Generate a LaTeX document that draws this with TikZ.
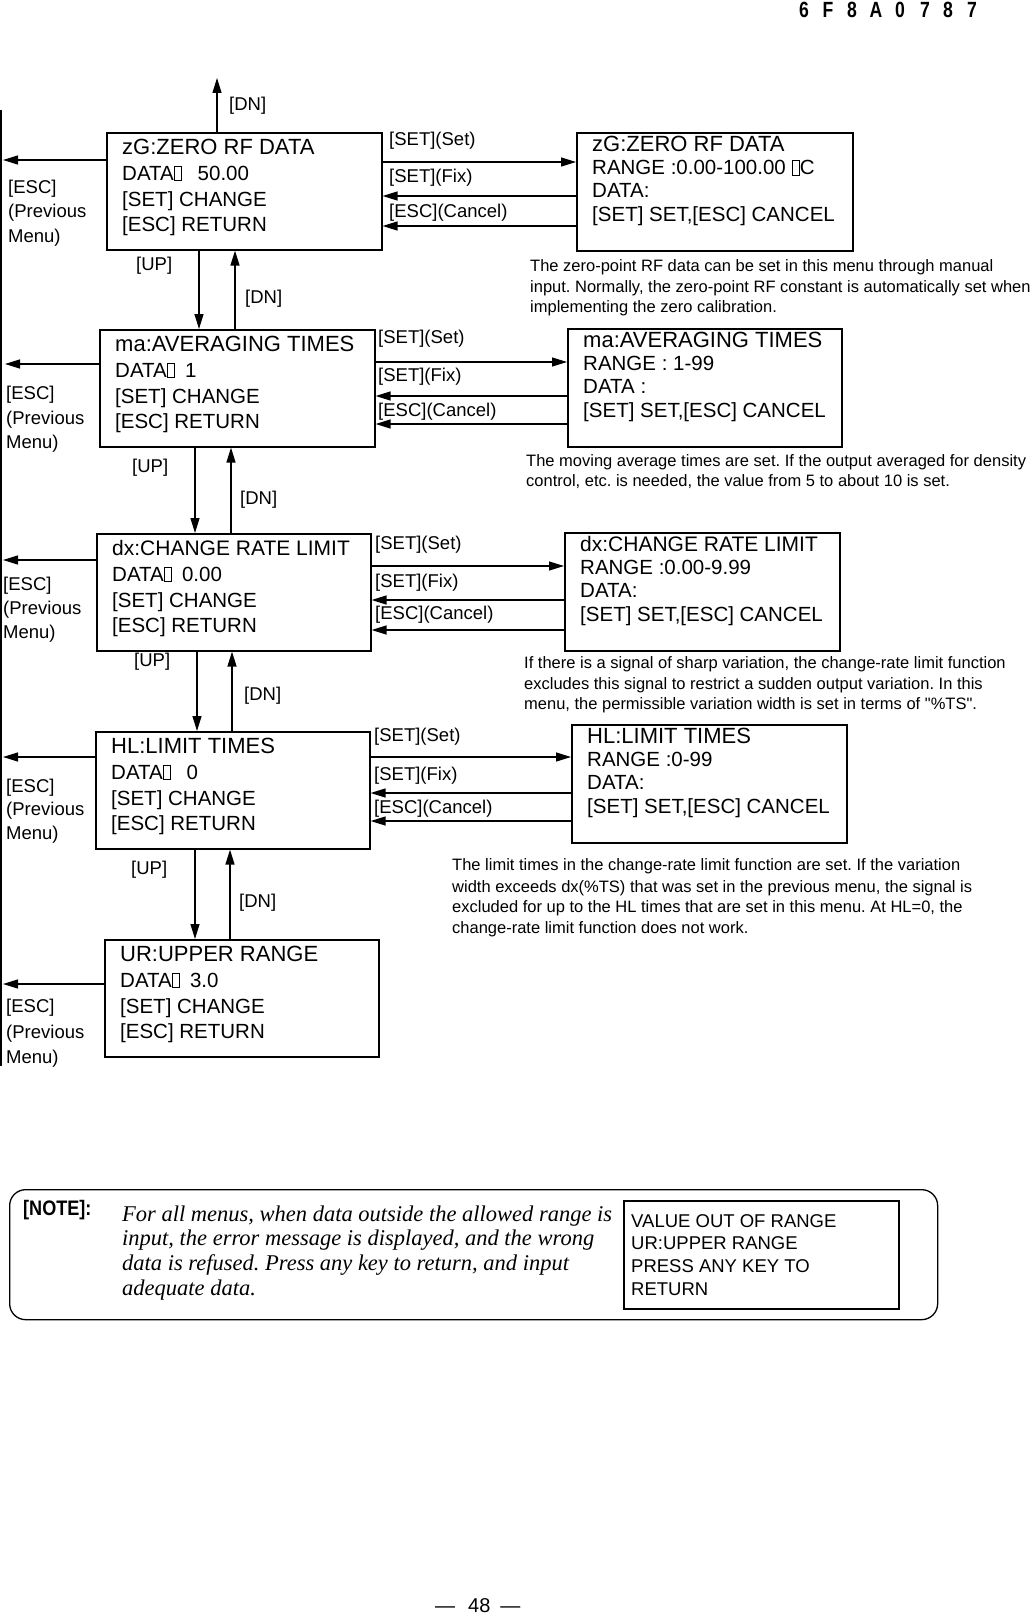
\documentclass[tikz,border=0pt]{standalone}
\usepackage{fontspec}
\setmainfont{Liberation Sans}
\newfontfamily\notefont{Liberation Serif}
\usepackage{graphicx}
\usetikzlibrary{arrows.meta,calc}
\newcommand\tofu{\hspace{0.5pt}{\fboxsep=0pt\fboxrule=0.6pt\fbox{\rule{0pt}{14pt}\hspace{6.5pt}}}}
\newcommand\dtofu{\tofu\hspace{10pt}}
\newcommand\leftmenu[9]{%
  \node[mbox, minimum width=#4pt, minimum height=117pt] (#1) at (#2,#3) {};
  \node[ttl, font=\fontsize{#9}{26}\selectfont] (#1-1) at ($(#1.north west)+(16,22.4)$) {#5};
  \node[txt] (#1-2) at ($(#1.north west)+(16,48.3)$) {#6};
  \node[txt] (#1-3) at ($(#1.north west)+(16,74.3)$) {#7};
  \node[txt] (#1-4) at ($(#1.north west)+(16,99.3)$) {#8};
}
\newcommand\rightmenu[9]{%
  \node[mbox, minimum width=#4pt, minimum height=118pt] (#1) at (#2,#3) {};
  \node[ttl, font=\fontsize{#9}{26}\selectfont] (#1-1) at ($(#1.north west)+(16,19.9)$) {#5};
  \node[txt] (#1-2) at ($(#1.north west)+(16,42.8)$) {#6};
  \node[txt] (#1-3) at ($(#1.north west)+(16,65.8)$) {#7};
  \node[txt] (#1-4) at ($(#1.north west)+(16,89.3)$) {#8};
}
\begin{document}
\frenchspacing
\begin{tikzpicture}[x=1pt,y=-1pt,
  mbox/.style={draw, line width=1.6pt, inner sep=0pt, anchor=north west},
  ttl/.style={anchor=base west, inner sep=0pt},
  txt/.style={anchor=base west, inner sep=0pt, font=\fontsize{20.5}{24}\selectfont},
  lbl/.style={anchor=base west, inner sep=0pt, font=\fontsize{18.5}{22}\selectfont},
  note/.style={anchor=base west, inner sep=0pt, font=\fontsize{16.5}{20}\selectfont},
  ital/.style={anchor=base west, inner sep=0pt, font=\fontsize{22.5}{25}\notefont\itshape},
  err/.style={anchor=base west, inner sep=0pt, font=\fontsize{18.5}{22}\selectfont},
  hdr/.style={anchor=center, inner sep=0pt, font=\fontsize{22}{24}\selectfont\bfseries},
  arr/.style={line width=1.3pt, -{Triangle[length=15pt,width=9pt]}},
  plain/.style={line width=1.3pt}]
\useasboundingbox (0,0) rectangle (1032,1616);
\fill[white] (0,0) rectangle (1032,1616);

% header
\foreach \c/\x [count=\i] in {6/804,F/828,8/852,A/876,0/900,7/925,8/948,7/972}
  \node[hdr] (h\i) at (\x,10) {\scalebox{0.8}[1]{\c}};

% left menus
\leftmenu{zGL}{106}{132}{275}{zG:ZERO RF DATA}{DATA\dtofu\ 50.00}{[SET] CHANGE}{[ESC] RETURN}{22}
\leftmenu{maL}{99}{329}{275}{ma:AVERAGING TIMES}{DATA\dtofu 1}{[SET] CHANGE}{[ESC] RETURN}{22}
\leftmenu{dxL}{96}{533}{274}{dx:CHANGE RATE LIMIT}{DATA\dtofu 0.00}{[SET] CHANGE}{[ESC] RETURN}{21}
\leftmenu{HLL}{95}{731}{274}{HL:LIMIT TIMES}{DATA\dtofu\ 0}{[SET] CHANGE}{[ESC] RETURN}{22}
\leftmenu{URL}{104}{939}{274}{UR:UPPER RANGE}{DATA\dtofu 3.0}{[SET] CHANGE}{[ESC] RETURN}{22}

% right menus
\rightmenu{zGR}{576}{132}{276}{zG:ZERO RF DATA}{RANGE :0.00-100.00 \tofu C}{DATA:}{[SET] SET,[ESC] CANCEL}{22}
\rightmenu{maR}{567}{328}{274}{ma:AVERAGING TIMES}{RANGE : 1-99}{DATA :}{[SET] SET,[ESC] CANCEL}{22}
\rightmenu{dxR}{564}{532}{275}{dx:CHANGE RATE LIMIT}{RANGE :0.00-9.99}{DATA:}{[SET] SET,[ESC] CANCEL}{21}
\rightmenu{HLR}{571}{724}{275}{HL:LIMIT TIMES}{RANGE :0-99}{DATA:}{[SET] SET,[ESC] CANCEL}{22}

% horizontal arrows, zG row
\draw[arr] (zGL.east |- 0,162) -- (zGR.west |- 0,162);
\draw[arr] (zGR.west |- 0,196) -- (zGL.east |- 0,196);
\draw[arr] (zGR.west |- 0,226) -- (zGL.east |- 0,226);
\node[lbl] (zGs) at (389,145.6) {[SET](Set)};
\node[lbl] (zGf) at (389,182.6) {[SET](Fix)};
\node[lbl] (zGc) at (389,217.6) {[ESC](Cancel)};
% ma row
\draw[arr] (maL.east |- 0,362) -- (maR.west |- 0,362);
\draw[arr] (maR.west |- 0,396) -- (maL.east |- 0,396);
\draw[arr] (maR.west |- 0,424) -- (maL.east |- 0,424);
\node[lbl] (mas) at (378,343.6) {[SET](Set)};
\node[lbl] (maf) at (378,381.6) {[SET](Fix)};
\node[lbl] (mac) at (378,416.6) {[ESC](Cancel)};
% dx row
\draw[arr] (dxL.east |- 0,566) -- (dxR.west |- 0,566);
\draw[arr] (dxR.west |- 0,600) -- (dxL.east |- 0,600);
\draw[arr] (dxR.west |- 0,630) -- (dxL.east |- 0,630);
\node[lbl] (dxs) at (375,549.6) {[SET](Set)};
\node[lbl] (dxf) at (375,587.6) {[SET](Fix)};
\node[lbl] (dxc) at (375,619.6) {[ESC](Cancel)};
% HL row
\draw[arr] (HLL.east |- 0,757) -- (HLR.west |- 0,757);
\draw[arr] (HLR.west |- 0,793) -- (HLL.east |- 0,793);
\draw[arr] (HLR.west |- 0,821) -- (HLL.east |- 0,821);
\node[lbl] (HLs) at (374,741.6) {[SET](Set)};
\node[lbl] (HLf) at (374,780.6) {[SET](Fix)};
\node[lbl] (HLc) at (374,813.6) {[ESC](Cancel)};

% left vertical line
\coordinate (v1) at (1,110);
\coordinate (v2) at (1,1066);
\draw[plain] (v1) -- (v2);

% ESC arrows
\coordinate (e1) at (3,160);
\coordinate (e2) at (5,364);
\coordinate (e3) at (3,560);
\coordinate (e4) at (3,757);
\coordinate (e5) at (3,984);
\draw[arr] (zGL.west |- e1) -- (e1);
\draw[arr] (maL.west |- e2) -- (e2);
\draw[arr] (dxL.west |- e3) -- (e3);
\draw[arr] (HLL.west |- e4) -- (e4);
\draw[arr] (URL.west |- e5) -- (e5);
\foreach \n/\x/\a/\b/\c in {1/8/193.6/217.6/242.6, 2/6/399.6/424.6/448.6, 3/3/590.6/614.6/638.6, 4/6/792.6/815.6/839.6, 5/6/1012.6/1038.6/1063.6}{
  \node[lbl] (esc\n a) at (\x,\a) {[ESC]};
  \node[lbl] (esc\n b) at (\x,\b) {(Previous};
  \node[lbl] (esc\n c) at (\x,\c) {Menu)};
}

% vertical arrows
\coordinate (t0) at (217,78);
\draw[arr] (zGL.north -| t0) -- (t0);
\node[lbl] (dn0) at (229,110.6) {[DN]};

\draw[arr] (zGL.south -| 199,0) -- (maL.north -| 199,0);
\draw[arr] (maL.north -| 235,0) -- (zGL.south -| 235,0);
\node[lbl] (up1) at (136,270.6) {[UP]};
\node[lbl] (dn1) at (245,303.6) {[DN]};

\draw[arr] (maL.south -| 195,0) -- (dxL.north -| 195,0);
\draw[arr] (dxL.north -| 231,0) -- (maL.south -| 231,0);
\node[lbl] (up2) at (132,472.6) {[UP]};
\node[lbl] (dn2) at (240,504.6) {[DN]};

\draw[arr] (dxL.south -| 197,0) -- (HLL.north -| 197,0);
\draw[arr] (HLL.north -| 232,0) -- (dxL.south -| 232,0);
\node[lbl] (up3) at (134,666.6) {[UP]};
\node[lbl] (dn3) at (244,700.6) {[DN]};

\draw[arr] (HLL.south -| 195,0) -- (URL.north -| 195,0);
\draw[arr] (URL.north -| 230,0) -- (HLL.south -| 230,0);
\node[lbl] (up4) at (131,874.6) {[UP]};
\node[lbl] (dn4) at (239,907.6) {[DN]};

% notes
\node[note] (n1a) at (530,271.9) {The zero-point RF data can be set in this menu through manual};
\node[note] (n1b) at (530,292.9) {input. Normally, the zero-point RF constant is automatically set when};
\node[note] (n1c) at (530,312.9) {implementing the zero calibration.};
\node[note] (n2a) at (526,466.9) {The moving average times are set. If the output averaged for density};
\node[note] (n2b) at (526,486.9) {control, etc. is needed, the value from 5 to about 10 is set.};
\node[note] (n3a) at (524,668.9) {If there is a signal of sharp variation, the change-rate limit function};
\node[note] (n3b) at (524,689.9) {excludes this signal to restrict a sudden output variation. In this};
\node[note] (n3c) at (524,709.9) {menu, the permissible variation width is set in terms of \textquotedbl\%TS\textquotedbl.};
\node[note] (n4a) at (452,870.9) {The limit times in the change-rate limit function are set. If the variation};
\node[note] (n4b) at (452,892.9) {width exceeds dx(\%TS) that was set in the previous menu, the signal is};
\node[note] (n4c) at (452,912.9) {excluded for up to the HL times that are set in this menu. At HL=0, the};
\node[note] (n4d) at (452,933.9) {change-rate limit function does not work.};

% NOTE box
\node[draw, line width=1.3pt, rounded corners=16pt, minimum width=928pt, minimum height=130pt, inner sep=0pt, anchor=north west] (notebox) at (9,1189) {};
\node[anchor=base west, inner sep=0pt, font=\fontsize{21}{24}\selectfont\bfseries] (notelbl) at (23,1215.5) {\scalebox{0.86}[1]{[NOTE]:}};
\node[ital] (it1) at (122,1221) {For all menus, when data outside the allowed range is};
\node[ital] (it2) at (122,1245) {input, the error message is displayed, and the wrong};
\node[ital] (it3) at (122,1270) {data is refused. Press any key to return, and input};
\node[ital] (it4) at (122,1295) {adequate data.};
\node[mbox, minimum width=275pt, minimum height=108pt] (errbox) at (623,1200) {};
\node[err] (er1) at (631,1227.6) {VALUE OUT OF RANGE};
\node[err] (er2) at (631,1249.6) {UR:UPPER RANGE};
\node[err] (er3) at (631,1272.6) {PRESS ANY KEY TO};
\node[err] (er4) at (631,1295.6) {RETURN};

% page number
\node[anchor=base west, inner sep=0pt, font=\fontsize{20}{24}\selectfont] (pg) at (435,1612) {—\hspace{13pt}48\hspace{10pt}—};
\end{tikzpicture}
\end{document}
